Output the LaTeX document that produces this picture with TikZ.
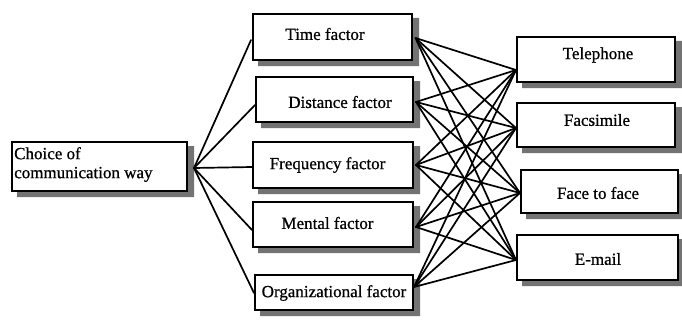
\documentclass[tikz,border=0pt]{standalone}
\usepackage{fontspec}
\setmainfont{Liberation Serif}[BoldFont={Liberation Serif}, BoldFeatures={FakeBold=0.7}]
\usetikzlibrary{backgrounds}
\begin{document}
\begin{tikzpicture}[x=1pt,y=-1pt,
  box/.style={draw=black, line width=2pt, fill=white, inner sep=0pt},
  shade/.style={fill=black!55},
  lbl/.style={inner sep=0pt, font=\fontsize{17}{20}\selectfont\bfseries},
  wire/.style={line width=1.7pt, line cap=round}]
\useasboundingbox (0,0) rectangle (682,321);

% boxes: \node[box] at (centre) with width and height
\node[box, minimum width=175pt, minimum height=49pt] (choice) at (99.5,166.5) {};
\node[box, minimum width=159pt, minimum height=46pt] (time) at (332.5,37) {};
\node[box, minimum width=157pt, minimum height=45pt] (dist) at (334.5,99.5) {};
\node[box, minimum width=160pt, minimum height=46pt] (freq) at (333,165) {};
\node[box, minimum width=160pt, minimum height=45pt] (ment) at (333,224.5) {};
\node[box, minimum width=158pt, minimum height=35pt] (org) at (334,292.5) {};
\node[box, minimum width=158pt, minimum height=45pt] (tel) at (596,59.5) {};
\node[box, minimum width=158pt, minimum height=44pt] (fax) at (596,125) {};
\node[box, minimum width=157pt, minimum height=43pt] (f2f) at (599.5,191.5) {};
\node[box, minimum width=161pt, minimum height=45pt] (mail) at (597.5,257.5) {};

% shadows below and right of each box
\begin{scope}[on background layer]
  \foreach \b in {choice,time,dist,freq,ment,org,tel,fax,f2f,mail}
    \fill[shade] ([xshift=6pt,yshift=5pt]\b.south west) rectangle ([xshift=6pt,yshift=-5pt]\b.south east)
                 ([yshift=-5pt]\b.north east) rectangle ([xshift=6pt,yshift=-5pt]\b.south east);
\end{scope}

% labels
\node[lbl, anchor=north west, align=left] (choiceT) at (14,147) {Choice of\\[-1pt]communication way};
\node[lbl] (timeT) at (325,34) {Time factor};
\node[lbl] (distT) at (340,102) {Distance factor};
\node[lbl] (freqT) at (327.5,165) {Frequency factor};
\node[lbl] (mentT) at (327.5,223) {Mental factor};
\node[lbl] (orgT) at (334,293) {Organizational factor};
\node[lbl] (telT) at (598,55) {Telephone};
\node[lbl] (faxT) at (597,120) {Facsimile};
\node[lbl] (f2fT) at (598,193) {Face to face};
\node[lbl] (mailT) at (598,259) {E-mail};

% connection points
\coordinate (cOut) at ([xshift=6pt,yshift=-1.5pt]choice.east);
\coordinate (timeIn) at ([xshift=-1pt,yshift=-3pt]time.west);
\coordinate (distIn) at ([yshift=-5.5pt]dist.west);
\coordinate (freqIn) at ([yshift=-2pt]freq.west);
\coordinate (mentIn) at ([yshift=-5.5pt]ment.west);
\coordinate (orgIn) at ([yshift=-0.5pt]org.west);
\coordinate (timeOut) at ([xshift=2.5pt,yshift=-1pt]time.east);
\coordinate (distOut) at ([xshift=2pt,yshift=-2.5pt]dist.east);
\coordinate (freqOut) at ([xshift=2pt]freq.east);
\coordinate (mentOut) at ([xshift=2pt,yshift=-2.5pt]ment.east);
\coordinate (orgOut) at ([yshift=5.5pt]org.east);
\coordinate (telIn) at ([yshift=-10.5pt]tel.west);
\coordinate (faxIn) at ([yshift=-3pt]fax.west);
\coordinate (f2fIn) at ([yshift=-1.5pt]f2f.west);
\coordinate (mailIn) at ([yshift=-2.5pt]mail.west);

% choice to factors
\foreach \f in {timeIn,distIn,freqIn,mentIn,orgIn}
  \draw[wire] (cOut) -- (\f);

% every factor to every way of communicating
\foreach \f in {timeOut,distOut,freqOut,mentOut,orgOut}
  \foreach \w in {telIn,faxIn,f2fIn,mailIn}
    \draw[wire] (\f) -- (\w);
\end{tikzpicture}
\end{document}
